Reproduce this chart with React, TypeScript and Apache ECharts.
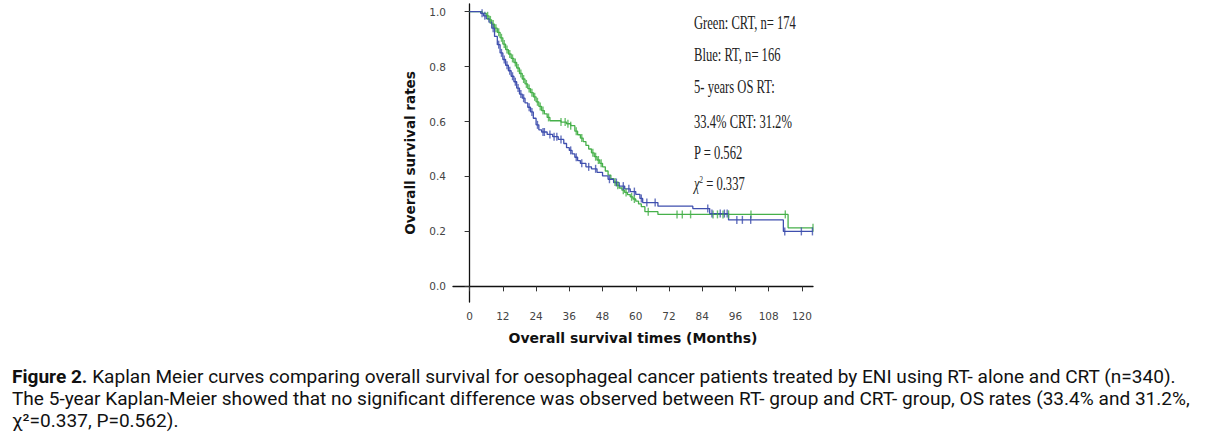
import React, { useEffect, useRef } from "react";
import * as echarts from "echarts";

const xTicks = [0, 12, 24, 36, 48, 60, 72, 84, 96, 108, 120];
const yTicks = [0, 0.2, 0.4, 0.6, 0.8, 1.0];

// Kaplan-Meier steps [month, survival after step]
const rtSteps: [number, number][] = [
  [0, 1], [4, 0.994], [5, 0.985], [6, 0.975], [7, 0.962], [8, 0.94], [9, 0.91], [10, 0.88],
  [11, 0.85], [12, 0.826], [13, 0.805], [14, 0.785], [15, 0.765], [16, 0.745], [17, 0.722],
  [18, 0.7], [19, 0.685], [20, 0.668], [21, 0.652], [22, 0.635], [23, 0.612], [24, 0.588],
  [25, 0.57], [26, 0.562], [28, 0.553], [30, 0.545], [32, 0.535], [34, 0.52], [35, 0.505],
  [36, 0.495], [37, 0.482], [38, 0.47], [39, 0.458], [40, 0.448], [42, 0.435], [44, 0.428],
  [46, 0.415], [48, 0.402], [50, 0.39], [52, 0.378], [54, 0.365], [56, 0.355], [58, 0.345],
  [60, 0.335], [61.5, 0.32], [62.5, 0.305], [68, 0.292], [80.6, 0.283], [86.7, 0.265],
  [93.5, 0.242], [113.3, 0.2], [124, 0.2],
];
const crtSteps: [number, number][] = [
  [0, 1], [4.5, 0.994], [6, 0.985], [7, 0.97], [8, 0.955], [9, 0.94], [10, 0.925], [11, 0.905],
  [12, 0.882], [13, 0.862], [14, 0.846], [15, 0.83], [16, 0.815], [17, 0.795], [18, 0.775],
  [19, 0.755], [20, 0.737], [21, 0.72], [22, 0.705], [23, 0.69], [24, 0.672], [25, 0.655],
  [26, 0.64], [27, 0.628], [28, 0.615], [29, 0.603], [33, 0.598], [35, 0.592], [36.5, 0.585],
  [38, 0.565], [39, 0.552], [40, 0.54], [41, 0.527], [42, 0.513], [43, 0.5], [44, 0.486],
  [45, 0.472], [46, 0.46], [47, 0.448], [48, 0.435], [49, 0.42], [50, 0.405], [51, 0.392],
  [52, 0.38], [53, 0.368], [54, 0.358], [55, 0.35], [56, 0.342], [57, 0.334], [58, 0.326],
  [59, 0.318], [60, 0.31], [61, 0.3], [62, 0.29], [63.3, 0.272], [68, 0.262], [115, 0.213],
  [124, 0.213],
];
const rtCensor = [
  4.5, 5.5, 8.5, 10.5, 11.5, 12.5, 13.5, 14.5, 15.5, 16.5, 17.5, 18.5, 19.5, 21.5, 22.5, 24.5,
  26.5, 27, 29, 30.5, 31.5, 33, 36.5, 38.5, 40.5, 43, 45.5, 50.5, 53, 55.5, 57.5, 59.5, 62, 64,
  67, 86, 87.5, 90.5, 92, 93, 96.5, 98.5, 101.5, 113.8, 119.8, 123.8,
];
const crtCensor = [
  6.5, 7.5, 8.5, 9.5, 10.5, 11.5, 12.5, 13.5, 14.5, 15.5, 16.5, 17.5, 18.5, 19.5, 20.5, 21.5,
  22.5, 23.5, 24.5, 25.5, 26.5, 28.5, 33, 34.5, 35.5, 36.5, 38.5, 40.5, 44.5, 45.5, 46.5, 47.5,
  52.5, 53.5, 55.5, 56.5, 58.5, 59.5, 64.5, 74.9, 76.8, 79.8, 87.9, 89.5, 91.5, 93.5, 101.6,
  114, 124,
];

const annotationLines = [
  "Green: CRT, n= 174",
  "Blue: RT, n= 166",
  "5- years OS RT:",
  "33.4% CRT: 31.2%",
  "P = 0.562",
];
const annotationChi = "= 0.337";

const captionLines = [
  { bold: "Figure 2.", text: " Kaplan Meier curves comparing overall survival for oesophageal cancer patients treated by ENI using RT- alone and CRT (n=340)." },
  { bold: "", text: "The 5-year Kaplan-Meier showed that no significant difference was observed between RT- group and CRT- group, OS rates (33.4% and 31.2%," },
  { bold: "", text: "χ²=0.337, P=0.562)." },
];

const GREEN = "#46b04a";
const BLUE = "#3f4fae";

function survivalAt(steps: [number, number][], t: number) {
  let s = steps[0][1];
  for (const [tt, v] of steps) {
    if (tt <= t) s = v;
    else break;
  }
  return s;
}

export default function App() {
  const ref = useRef<HTMLDivElement>(null);
  useEffect(() => {
    if (!ref.current) return;
    const chart = echarts.init(ref.current, null, { renderer: "svg" });
    const annY = [23, 55, 87, 122, 153];
    const annFont = '18px "Liberation Serif", serif';
    const graphics: any[] = annotationLines.map((t, i) => ({
      type: "text",
      x: 694,
      y: annY[i],
      scaleX: 0.7,
      style: {
        text: t,
        font: annFont,
        fill: "#222",
        textVerticalAlign: "middle",
      },
    }));
    graphics.push({
      type: "text",
      x: 694,
      y: 184,
      scaleX: 0.7,
      style: {
        text: "{i|χ}{s|2}{n| " + annotationChi + "}",
        fill: "#222",
        textVerticalAlign: "middle",
        rich: {
          i: { font: 'italic 18px "Liberation Serif", serif', fill: "#222" },
          s: { font: '10px "Liberation Serif", serif', fill: "#222", verticalAlign: "top", padding: [0, 0, 9, 0] },
          n: { font: annFont, fill: "#222" },
        },
      },
    });
    const capY = [377, 399, 421];
    captionLines.forEach((c, i) => {
      graphics.push({
        type: "text",
        x: 12,
        y: capY[i],
        scaleX: 1.06,
        style: {
          text: c.bold ? "{b|" + c.bold + "}{r|" + c.text + "}" : "{r|" + c.text + "}",
          textVerticalAlign: "middle",
          rich: {
            b: { font: 'bold 18px "Roboto", sans-serif', fill: "#111" },
            r: { font: '18px "Roboto", sans-serif', fill: "#111" },
          },
        },
      });
    });

    chart.setOption({
      animation: false,
      backgroundColor: "#ffffff",
      grid: { left: 453, top: 4, width: 360, height: 298, containLabel: false },
      xAxis: {
        type: "value",
        min: -6,
        max: 124,
        name: "Overall survival times (Months)",
        nameLocation: "middle",
        nameGap: 29,
        nameTextStyle: { fontFamily: "DejaVu Sans", fontWeight: "bold", fontSize: 14, color: "#111" },
        axisLine: { show: true, lineStyle: { color: "#111", width: 1.3 } },
        axisTick: { show: true, length: 5, customValues: xTicks, lineStyle: { color: "#333" } },
        axisLabel: {
          customValues: xTicks,
          fontFamily: "DejaVu Sans",
          fontSize: 10.5,
          color: "#444",
          margin: 8,
        },
        splitLine: { show: false },
      },
      yAxis: {
        type: "value",
        min: -0.057,
        max: 1.028,
        name: "Overall survival rates",
        nameLocation: "middle",
        nameGap: 36,
        nameTextStyle: { fontFamily: "DejaVu Sans", fontWeight: "bold", fontSize: 13.5, color: "#111" },
        axisLine: { show: true, lineStyle: { color: "#111", width: 1.3 } },
        axisTick: { show: true, length: 5, customValues: yTicks, lineStyle: { color: "#333" } },
        axisLabel: {
          customValues: yTicks,
          formatter: (v: number) => v.toFixed(1),
          fontFamily: "DejaVu Sans",
          fontSize: 10.5,
          color: "#444",
          margin: 7,
        },
        splitLine: { show: false },
      },
      series: [
        {
          type: "line",
          name: "RT",
          step: "end",
          data: rtSteps,
          showSymbol: false,
          symbol: "none",
          lineStyle: { color: BLUE, width: 1.3 },
          z: 3,
        },
        {
          type: "line",
          name: "CRT",
          step: "end",
          data: crtSteps,
          showSymbol: false,
          symbol: "none",
          lineStyle: { color: GREEN, width: 1.3 },
          z: 2,
        },
        {
          type: "scatter",
          name: "RT censored",
          data: rtCensor.map((t) => [t, survivalAt(rtSteps, t)]),
          symbol: "rect",
          symbolSize: [1.4, 8],
          itemStyle: { color: BLUE },
          z: 4,
        },
        {
          type: "scatter",
          name: "CRT censored",
          data: crtCensor.map((t) => [t, survivalAt(crtSteps, t)]),
          symbol: "rect",
          symbolSize: [1.4, 8],
          itemStyle: { color: GREEN },
          z: 3,
        },
      ],
      graphic: graphics,
    });
    return () => chart.dispose();
  }, []);
  return (
    <div style={{ position: "absolute", left: 0, top: 0, width: 1207, height: 440, background: "#fff" }}>
      <div ref={ref} style={{ width: 1207, height: 440 }} />
    </div>
  );
}
